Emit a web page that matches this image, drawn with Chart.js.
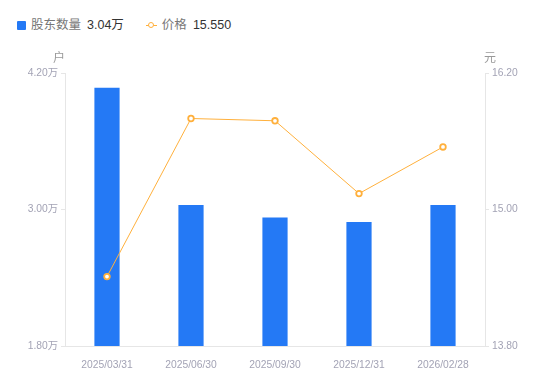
<!DOCTYPE html>
<html>
<head>
<meta charset="utf-8">
<script src="https://cdn.jsdelivr.net/npm/chart.js@4/dist/chart.umd.min.js"></script>
<style>
  html, body { margin: 0; padding: 0; background: #fff; }
  #wrap { position: relative; width: 550px; height: 381px; font-family: "Liberation Sans", "Noto Sans CJK SC", sans-serif; }
  #legend { position: absolute; left: 17px; top: 16px; font-size: 12.5px; line-height: 18px; display: flex; align-items: center; }
  .item { display: flex; align-items: center; margin-right: 22px; }
  .name { color: #777; margin-right: 6px; }
  .val { color: #333; }
  .sq { width: 9px; height: 9px; background: #2479f5; border-radius: 1px; margin-right: 5px; }
  .ln { position: relative; width: 11px; height: 9px; margin-right: 5px; }
  .ln:before { content: ""; position: absolute; left: 0; right: 0; top: 4px; height: 1px; background: #ffb03c; }
  .ln:after { content: ""; position: absolute; left: 2px; top: 1px; width: 4px; height: 4px; border: 1.5px solid #ffb03c; border-radius: 50%; background: #fff; }
  canvas { position: absolute; left: 0; top: 0; }
</style>
</head>
<body>
<div id="wrap">
  <div id="legend">
    <div class="item"><div class="sq"></div><span class="name">股东数量</span><span class="val">3.04万</span></div>
    <div class="item"><div class="ln"></div><span class="name">价格</span><span class="val">15.550</span></div>
  </div>
  <canvas id="chart" width="550" height="381"></canvas>
</div>
<script>
// data
const dates = ["2025/03/31", "2025/06/30", "2025/09/30", "2025/12/31", "2026/02/28"];
const holders = [4.07, 3.04, 2.93, 2.89, 3.04];      // 万户
const prices = [14.41, 15.80, 15.78, 15.14, 15.55];  // 元
const holderTicks = [1.8, 3.0, 4.2];
const priceTicks = [13.8, 15.0, 16.2];

const tickColor = "#a3a3b5";
const lineColor = "#e6e6e6";
const orange = "#ffb03c";

// axis unit labels above the y axes
const unitTitles = {
  id: "unitTitles",
  afterDraw(chart) {
    const ctx = chart.ctx;
    const area = chart.chartArea;
    ctx.save();
    ctx.font = '12px "Noto Sans CJK SC"';
    ctx.fillStyle = "#999";
    ctx.textBaseline = "middle";
    ctx.textAlign = "center";
    ctx.fillText("户", area.left - 6, area.top - 16);
    ctx.fillText("元", area.right + 5, area.top - 16);
    ctx.restore();
  }
};

new Chart(document.getElementById("chart"), {
  data: {
    labels: dates,
    datasets: [
      {
        type: "line",
        label: "价格",
        data: prices,
        yAxisID: "y1",
        borderColor: orange,
        borderWidth: 1,
        pointRadius: 2.8,
        pointBorderWidth: 1.8,
        pointBackgroundColor: "#fff",
        pointBorderColor: orange,
        tension: 0,
        order: 0
      },
      {
        type: "bar",
        label: "股东数量",
        data: holders,
        yAxisID: "y",
        backgroundColor: "#2479f5",
        barPercentage: 0.3,
        categoryPercentage: 1,
        order: 1
      }
    ]
  },
  options: {
    responsive: false,
    animation: false,
    layout: { padding: { top: 73, bottom: 0, left: 0, right: 0 } },
    plugins: { legend: { display: false }, tooltip: { enabled: false } },
    scales: {
      x: {
        offset: true,
        grid: { display: false },
        border: { display: true, color: lineColor },
        ticks: { color: tickColor, font: { size: 10.3, family: "Liberation Sans" }, padding: 5, maxRotation: 0 },
        afterFit(s) { s.height = 35; }
      },
      y: {
        position: "left",
        min: 1.8,
        max: 4.2,
        grid: { drawOnChartArea: false, tickLength: 4, color: lineColor },
        border: { color: lineColor },
        afterBuildTicks(s) { s.ticks = holderTicks.map(v => ({ value: v })); },
        ticks: {
          color: tickColor,
          font: { size: 10.3, family: "Liberation Sans, Noto Sans CJK SC" },
          padding: 3,
          callback: v => v.toFixed(2) + "万"
        },
        afterFit(s) { s.width = 65; }
      },
      y1: {
        position: "right",
        min: 13.8,
        max: 16.2,
        grid: { drawOnChartArea: false, tickLength: 4, color: lineColor },
        border: { color: lineColor },
        afterBuildTicks(s) { s.ticks = priceTicks.map(v => ({ value: v })); },
        ticks: {
          color: tickColor,
          font: { size: 10.3, family: "Liberation Sans" },
          padding: 3,
          callback: v => v.toFixed(2)
        },
        afterFit(s) { s.width = 65; }
      }
    }
  },
  plugins: [unitTitles]
});
</script>
</body>
</html>
